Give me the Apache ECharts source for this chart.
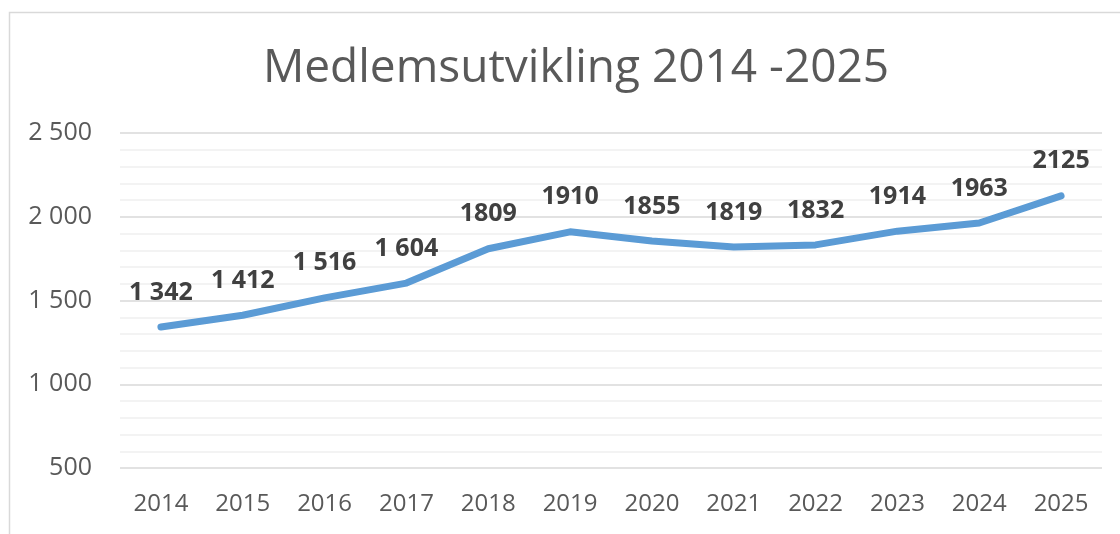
<!DOCTYPE html>
<html>
<head>
<meta charset="utf-8">
<script src="https://cdn.jsdelivr.net/npm/echarts@6/dist/echarts.min.js"></script>
<style>
  html, body { margin: 0; padding: 0; background: #fff; }
  #chart { width: 1120px; height: 534px; }
</style>
</head>
<body>
<div id="chart"></div>
<script>
const years = ["2014", "2015", "2016", "2017", "2018", "2019", "2020", "2021", "2022", "2023", "2024", "2025"];
const members = [1342, 1412, 1516, 1604, 1809, 1910, 1855, 1819, 1832, 1914, 1963, 2125];
const memberLabels = ["1 342", "1 412", "1 516", "1 604", "1809", "1910", "1855", "1819", "1832", "1914", "1963", "2125"];
const yTicks = [500, 1000, 1500, 2000, 2500];

const font = "'Open Sans', 'Noto Sans', sans-serif";
const chart = echarts.init(document.getElementById("chart"));

// tall : 2 500 med mellomrom
const fmt = (v) => String(v).replace(/\B(?=(\d{3})+(?!\d))/g, " ");

const option = {
  animation: false,
  backgroundColor: "#fff",
  title: {
    text: "Medlemsutvikling 2014 -2025",
    left: 571,
    textAlign: "center",
    top: 41,
    textStyle: {
      fontFamily: font,
      fontSize: 46,
      fontWeight: "normal",
      color: "#595959",
    },
  },
  graphic: [
    {
      type: "rect",
      shape: { x: 9.5, y: 12.5, width: 1200, height: 600 },
      style: { fill: "none", stroke: "#d9d9d9", lineWidth: 1.5 },
      silent: true,
      z: -1,
    },
  ],
  grid: { left: 120, right: 18, top: 133, bottom: 66 },
  xAxis: {
    type: "category",
    data: years,
    boundaryGap: true,
    axisLine: { show: false },
    axisTick: { show: false },
    axisLabel: {
      margin: 24,
      fontFamily: font,
      fontSize: 24,
      color: "#595959",
    },
  },
  yAxis: {
    type: "value",
    min: yTicks[0],
    max: yTicks[yTicks.length - 1],
    interval: 500,
    axisLine: { show: false },
    axisTick: { show: false },
    axisLabel: {
      margin: 28,
      fontFamily: font,
      fontSize: 25,
      color: "#595959",
      formatter: fmt,
    },
    splitLine: { lineStyle: { color: "#d9d9d9", width: 1.5 } },
    minorTick: { show: false, splitNumber: 5 },
    minorSplitLine: { show: true, lineStyle: { color: "#f0f0f0", width: 1.5 } },
  },
  series: [
    {
      type: "line",
      data: members,
      symbol: "circle",
      symbolSize: 2,
      showSymbol: true,
      lineStyle: { color: "#5b9bd5", width: 7, cap: "round", join: "round" },
      itemStyle: { color: "#5b9bd5" },
      label: {
        show: true,
        position: "top",
        distance: 21,
        fontFamily: font,
        fontSize: 25,
        fontWeight: "bold",
        color: "#404040",
        formatter: (p) => memberLabels[p.dataIndex],
      },
    },
  ],
};

chart.setOption(option);
</script>
</body>
</html>
